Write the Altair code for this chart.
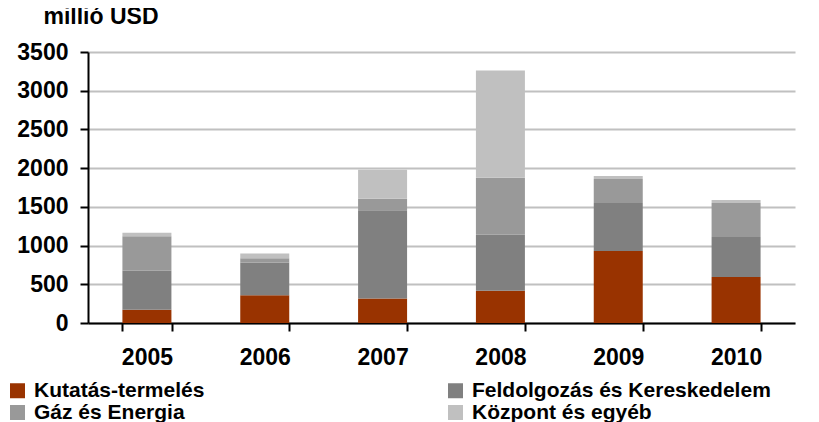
import altair as alt
import pandas as pd

years = ["2005", "2006", "2007", "2008", "2009", "2010"]
series = ["Kutatás-termelés", "Feldolgozás és Kereskedelem", "Gáz és Energia", "Központ és egyéb"]
kutatas = [170, 360, 315, 415, 930, 595]
feldolgozas = [505, 420, 1140, 725, 620, 515]
gaz = [445, 57, 150, 735, 310, 440]
kozpont = [47, 60, 375, 1385, 40, 40]
colors = ["#993300", "#808080", "#999999", "#C0C0C0"]

rows = []
for i, y in enumerate(years):
    for j, (s, vals) in enumerate(zip(series, [kutatas, feldolgozas, gaz, kozpont])):
        rows.append({"év": y, "szegmens": s, "érték": vals[i], "rend": j})
df = pd.DataFrame(rows)

FONT = "Liberation Sans"

chart = alt.Chart(df).mark_bar(size=49).encode(
    x=alt.X("év:N", sort=years, title=None,
            scale=alt.Scale(paddingInner=0.58, paddingOuter=0.29),
            axis=alt.Axis(labelAngle=0, labelFont=FONT, labelFontSize=23, labelFontWeight="bold",
                          labelColor="black", tickBand="extent", tickSize=8, tickColor="black",
                          tickWidth=2, domainColor="black", domainWidth=2, labelPadding=15,
                          grid=False)),
    y=alt.Y("érték:Q", stack="zero",
            scale=alt.Scale(domain=[0, 3500], nice=False),
            axis=alt.Axis(values=list(range(0, 3501, 500)), format="d", title="millió USD", titleAngle=0,
                          titleAlign="left", titleX=-45, titleY=-24, titleFont=FONT,
                          titleFontSize=23, titleFontWeight="bold", titleColor="black",
                          labelFont=FONT, labelFontSize=23, labelFontWeight="bold",
                          labelColor="black", labelPadding=12, tickSize=8, tickColor="black",
                          tickWidth=2, domainColor="black", domainWidth=2,
                          gridColor="#c0c0c0", gridWidth=2)),
    color=alt.Color("szegmens:N", sort=series,
                    scale=alt.Scale(domain=series, range=colors),
                    legend=alt.Legend(title=None, orient="none", legendX=-81, legendY=328,
                                      direction="horizontal", columns=2, columnPadding=240,
                                      rowPadding=0,
                                      symbolType="square", symbolSize=225, symbolStrokeWidth=0,
                                      labelFont=FONT, labelFontSize=21, labelFontWeight="bold",
                                      labelColor="black", labelLimit=500, labelOffset=6)),
    order=alt.Order("rend:Q"),
).properties(
    width=707, height=271,
    autosize=alt.AutoSizeParams(type="none"),
    padding={"left": 80, "top": 44, "right": 16, "bottom": 100},
).configure_view(stroke=None)

chart.save("out.html", embed_options={"renderer": "svg", "actions": False})
